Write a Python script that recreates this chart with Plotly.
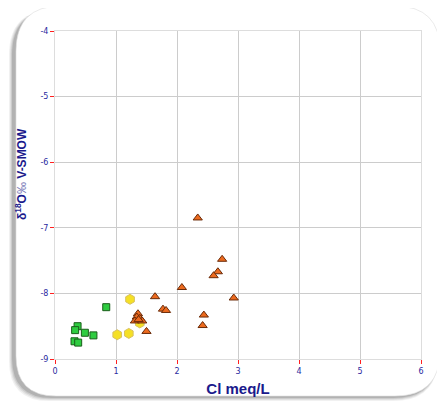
import plotly.graph_objects as go

# Data (Cl meq/L vs δ18O ‰ V-SMOW)
green_x = [0.84, 0.37, 0.33, 0.49, 0.63, 0.32, 0.38]
green_y = [-8.21, -8.50, -8.56, -8.60, -8.64, -8.73, -8.75]

yellow_x = [1.23, 1.02, 1.21, 1.39]
yellow_y = [-8.09, -8.63, -8.61, -8.45]

orange_x = [2.34, 2.74, 2.67, 2.60, 2.08, 1.64, 2.93, 1.77, 1.82, 2.44, 2.42, 1.50,
            1.36, 1.34, 1.39, 1.31, 1.43, 1.37]
orange_y = [-6.85, -7.48, -7.67, -7.73, -7.91, -8.05, -8.07, -8.24, -8.26, -8.33, -8.49, -8.58,
            -8.31, -8.36, -8.38, -8.42, -8.42, -8.40]

x_ticks = [0, 1, 2, 3, 4, 5, 6]
y_ticks = [-9, -8, -7, -6, -5, -4]

fig = go.Figure()
fig.add_trace(go.Scatter(x=green_x, y=green_y, mode="markers",
                         marker=dict(symbol="square", size=7, color="#2ecc40",
                                     line=dict(color="#1a5e1a", width=1))))
fig.add_trace(go.Scatter(x=yellow_x, y=yellow_y, mode="markers",
                         marker=dict(symbol="hexagon", size=10, color="#f5e025",
                                     line=dict(color="#d8c060", width=1))))
fig.add_trace(go.Scatter(x=orange_x, y=orange_y, mode="markers",
                         marker=dict(symbol="triangle-up", size=8, color="#ec6a1e",
                                     line=dict(color="#6a2a08", width=1))))

# page offset of the figure (default body margin)
OFF = 8
W, H = 445 - OFF, 403 - OFF
# plot area in page pixels: x 55..421, y 31..359
L, T = 55 - OFF, 31 - OFF
R = (OFF + W) - 421
B = (OFF + H) - 359
pw, ph = 421 - 55, 359 - 31

def px(x):
    return (x - 55) / pw

def py(y):
    return (359 - y) / ph

def card(x0, y0, x1, y1, r_tl, r_tr, r_br, r_bl):
    p = []
    p.append(f"M {px(x0 + r_tl)},{py(y0)}")
    p.append(f"L {px(x1 - r_tr)},{py(y0)}")
    p.append(f"Q {px(x1)},{py(y0)} {px(x1)},{py(y0 + r_tr)}")
    p.append(f"L {px(x1)},{py(y1 - r_br)}")
    p.append(f"Q {px(x1)},{py(y1)} {px(x1 - r_br)},{py(y1)}")
    p.append(f"L {px(x0 + r_bl)},{py(y1)}")
    p.append(f"Q {px(x0)},{py(y1)} {px(x0)},{py(y1 - r_bl)}")
    p.append(f"L {px(x0)},{py(y0 + r_tl)}")
    p.append(f"Q {px(x0)},{py(y0)} {px(x0 + r_tl)},{py(y0)}")
    p.append("Z")
    return " ".join(p)

shapes = []
for i, op in enumerate([0.08, 0.10, 0.14, 0.20]):
    d = 4 - i
    shapes.append(dict(type="path", xref="paper", yref="paper", layer="below",
                       path=card(14 - d - 1, 10, 438, 398 + d - 1, 45, 40, 45, 40),
                       fillcolor=f"rgba(80,80,80,{op})", line=dict(width=0)))
shapes.append(dict(type="path", xref="paper", yref="paper", layer="below",
                   path=card(16, 6, 440, 396, 45, 45, 45, 40),
                   fillcolor="white", line=dict(color="rgba(220,220,220,0.6)", width=1)))

fig.update_layout(
    width=W, height=H,
    margin=dict(l=L, r=R, t=T, b=B),
    paper_bgcolor="white",
    plot_bgcolor="white",
    showlegend=False,
    shapes=shapes,
    font=dict(family="DejaVu Sans"),
    annotations=[dict(
        text="<b>δ<sup>18</sup>O</b><span style='color:#7a7ab8'>‰</span><b> V-SMOW</b>",
        xref="paper", yref="paper", x=px(21), y=py(174),
        xanchor="center", yanchor="middle", textangle=-90, showarrow=False,
        font=dict(size=12, color="#1a1a8c", family="Liberation Sans"))],
)
fig.update_xaxes(range=[0, 6], tickvals=x_ticks, ticktext=[str(v) for v in x_ticks],
                 automargin=False,
                 showgrid=True, gridcolor="#cccccc", gridwidth=1, zeroline=False,
                 showline=True, linecolor="#dddddd", mirror=True,
                 ticks="outside", ticklen=4, tickcolor="#ff2020",
                 tickfont=dict(size=8, color="#2a2aa0"),
                 title=dict(text="<b>Cl meq/L</b>", font=dict(size=15, color="#1a1a8c",
                                                             family="Liberation Sans"),
                            standoff=8))
fig.update_yaxes(range=[-9, -4], tickvals=y_ticks, ticktext=[str(v) for v in y_ticks],
                 automargin=False,
                 showgrid=True, gridcolor="#cccccc", gridwidth=1, zeroline=False,
                 showline=True, linecolor="#dddddd", mirror=True,
                 ticks="outside", ticklen=4, tickcolor="#ff2020",
                 tickfont=dict(size=8, color="#2a2aa0"))

fig.write_html("out.html")
